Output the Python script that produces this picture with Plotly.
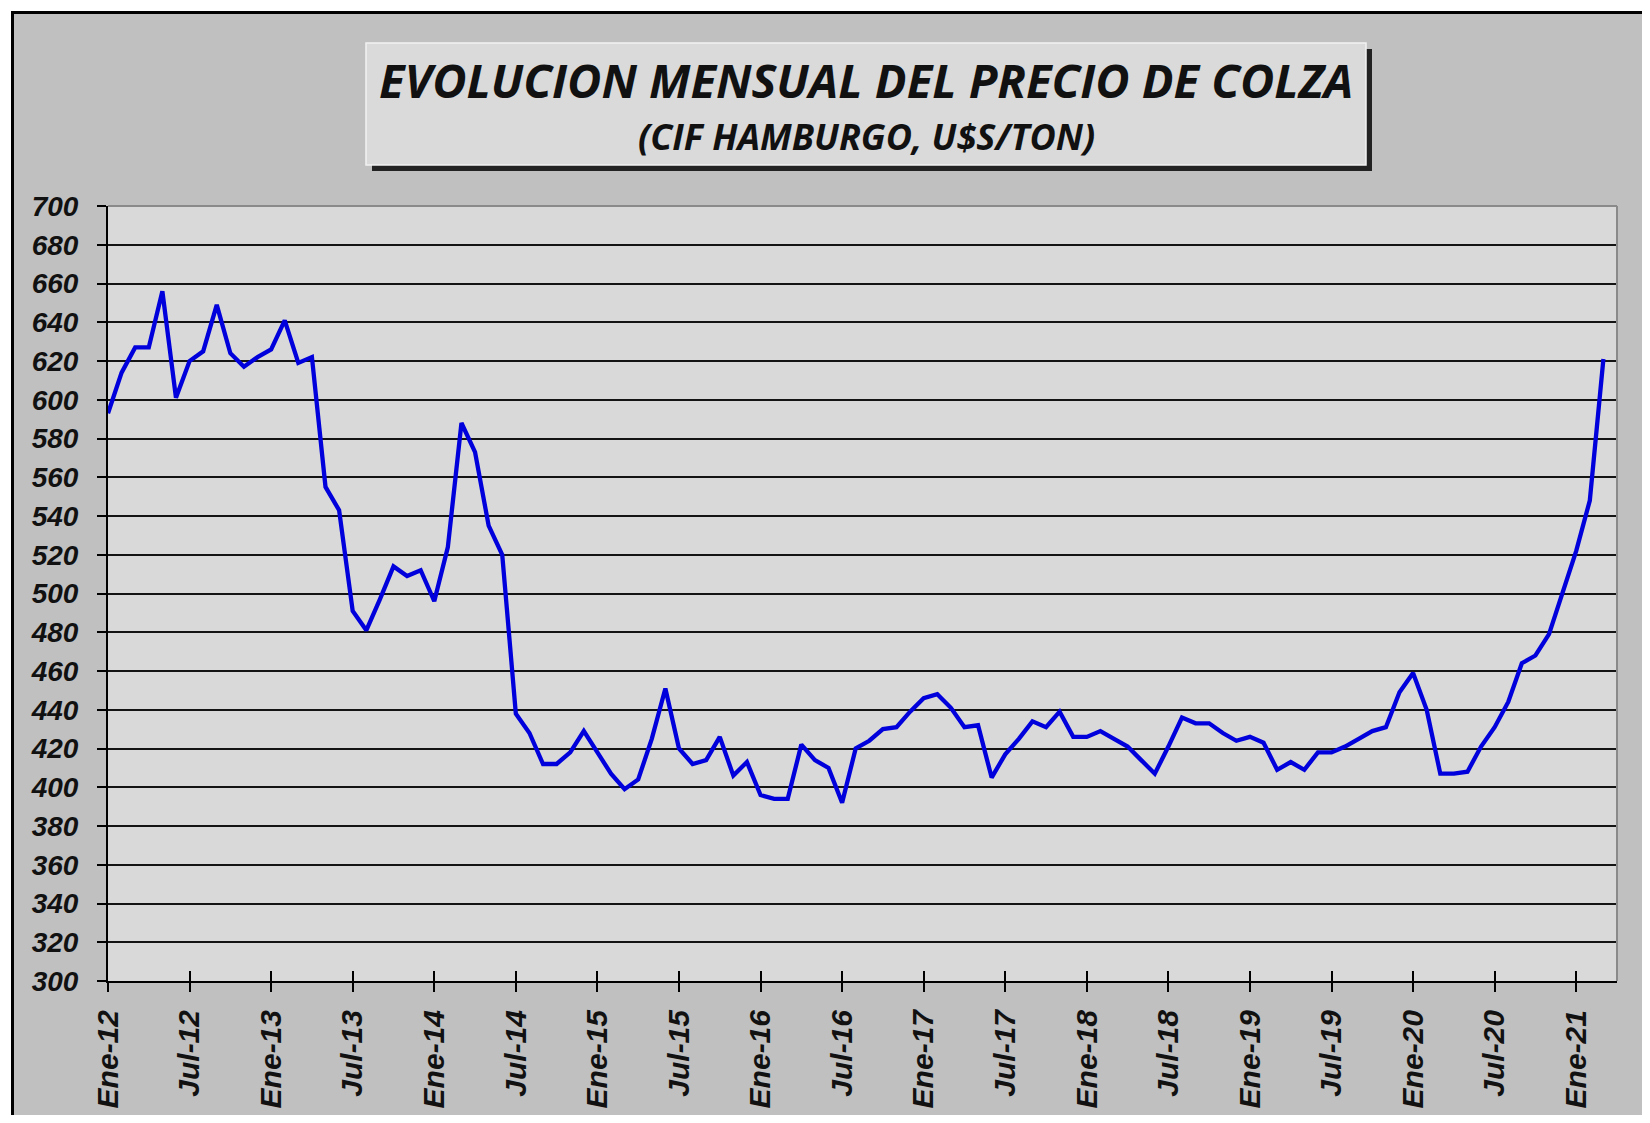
import plotly.graph_objects as go

# ---------------- data ----------------
month_abbr = ["Ene", "Feb", "Mar", "Abr", "May", "Jun", "Jul", "Ago", "Sep", "Oct", "Nov", "Dic"]
years = list(range(12, 22))

# monthly price, CIF Hamburgo, U$S/ton (Ene-12 ... Mar-21)
prices = [593, 614, 627, 627, 656, 601, 620, 625, 649, 624, 617, 622,
          626, 641, 619, 622, 555, 543, 491, 481, 497, 514, 509, 512,
          496, 524, 588, 573, 535, 520, 438, 428, 412, 412, 418, 429,
          418, 407, 399, 404, 425, 451, 420, 412, 414, 426, 406, 413,
          396, 394, 394, 422, 414, 410, 392, 420, 424, 430, 431, 439,
          446, 448, 441, 431, 432, 405, 417, 425, 434, 431, 439, 426,
          426, 429, 425, 421, 414, 407, 421, 436, 433, 433, 428, 424,
          426, 423, 409, 413, 409, 418, 418, 421, 425, 429, 431, 449,
          459, 440, 407, 407, 408, 421, 431, 444, 464, 468, 479, 500,
          522, 548, 621]

# axis categories run one month past the last value (Ene-12 ... Abr-21)
axis_months = [f"{m}-{y}" for y in years for m in month_abbr][:112]
tick_labels = ["Ene-12", "Jul-12", "Ene-13", "Jul-13", "Ene-14", "Jul-14", "Ene-15",
               "Jul-15", "Ene-16", "Jul-16", "Ene-17", "Jul-17", "Ene-18", "Jul-18",
               "Ene-19", "Jul-19", "Ene-20", "Jul-20", "Ene-21"]
y_ticks = list(range(300, 701, 20))

x_idx = list(range(len(prices)))
tick_idx = [axis_months.index(t) for t in tick_labels]
hover_months = axis_months[:len(prices)]

# ---------------- layout geometry (page pixels) ----------------
PAGE_W, PAGE_H = 1650, 1123
OFF = 8                      # default body margin of the html page
W, H = PAGE_W - OFF, PAGE_H - 2 * OFF
L, R, T, B = 108, 1617, 206, 981   # plot area on the page
pw, ph = R - L, B - T


def px(xp):
    return (xp - L) / pw


def py(yp):
    return (B - yp) / ph


tick_font = dict(family="Liberation Sans, Arial, sans-serif", size=28, color="#111111",
                 weight="bold", style="italic")
xtick_font = dict(tick_font, size=30)

fig = go.Figure()
fig.add_trace(go.Scatter(
    x=x_idx, y=prices, mode="lines", text=hover_months,
    line=dict(color="#0000dc", width=4.3),
    hovertemplate="%{text}: %{y}<extra></extra>",
    showlegend=False,
))
# invisible companion trace on the overlay axis (gives the inner tick marks)
fig.add_trace(go.Scatter(
    x=x_idx, y=prices, mode="lines", xaxis="x2",
    line=dict(color="rgba(0,0,0,0)", width=0),
    hoverinfo="skip", showlegend=False,
))

shapes = [
    # white strip + black outer frame
    dict(type="rect", xref="paper", yref="paper", x0=px(0), x1=px(PAGE_W - OFF), y0=py(OFF - 1), y1=py(11),
         fillcolor="white", line=dict(width=0), layer="below"),
    dict(type="rect", xref="paper", yref="paper", x0=px(OFF - 1), x1=px(11), y0=py(OFF - 1), y1=py(PAGE_H - OFF),
         fillcolor="white", line=dict(width=0), layer="below"),
    dict(type="line", xref="paper", yref="paper", x0=px(12), x1=px(PAGE_W - OFF), y0=py(12.5), y1=py(12.5),
         line=dict(color="black", width=3)),
    dict(type="line", xref="paper", yref="paper", x0=px(12.5), x1=px(12.5), y0=py(11), y1=py(PAGE_H - OFF),
         line=dict(color="black", width=3)),
    # title box shadow and box
    dict(type="rect", xref="paper", yref="paper", x0=px(372), x1=px(1372), y0=py(49), y1=py(171),
         fillcolor="#222222", line=dict(width=0)),
    dict(type="rect", xref="paper", yref="paper", x0=px(366), x1=px(1366), y0=py(43), y1=py(165),
         fillcolor="#dadada", line=dict(color="#f2f2f2", width=1.5)),
    # plot area top / right border
    dict(type="line", xref="paper", yref="paper", x0=0, x1=1, y0=1, y1=1,
         line=dict(color="#8a8a8a", width=2)),
    dict(type="line", xref="paper", yref="paper", x0=1, x1=1, y0=0, y1=1,
         line=dict(color="#8a8a8a", width=2)),
]

annotations = [
    dict(text="<b><i>EVOLUCION MENSUAL DEL PRECIO DE COLZA</i></b>", xref="paper", yref="paper",
         x=px(866), y=py(80), xanchor="center", yanchor="middle", showarrow=False,
         font=dict(family="Open Sans, Lato, sans-serif", size=47, color="#111111")),
    dict(text="<b><i>(CIF HAMBURGO, U$S/TON)</i></b>", xref="paper", yref="paper",
         x=px(866), y=py(137), xanchor="center", yanchor="middle", showarrow=False,
         font=dict(family="Open Sans, Lato, sans-serif", size=36, color="#111111")),
]

fig.update_layout(
    width=W, height=H,
    margin=dict(l=L - OFF, r=PAGE_W - R, t=T - OFF, b=H - (B - OFF), pad=0, autoexpand=False),
    paper_bgcolor="#c0c0c0",
    plot_bgcolor="#d9d9d9",
    showlegend=False,
    shapes=shapes,
    annotations=annotations,
    xaxis=dict(
        range=[0, len(axis_months) - 1],
        tickmode="array", tickvals=tick_idx, ticktext=tick_labels,
        tickangle=-90, tickfont=xtick_font,
        ticks="outside", ticklen=9, tickwidth=2, tickcolor="black",
        ticklabelstandoff=6, automargin=False,
        showgrid=False, zeroline=False,
        showline=True, linecolor="black", linewidth=2,
        fixedrange=True,
    ),
    xaxis2=dict(
        matches="x", overlaying="x", anchor="y", side="bottom",
        tickmode="array", tickvals=tick_idx, automargin=False,
        ticks="inside", ticklen=10, tickwidth=2, tickcolor="black",
        showticklabels=False, showgrid=False, zeroline=False, showline=False,
    ),
    yaxis=dict(
        range=[300, 700],
        tickmode="array", tickvals=y_ticks,
        tickfont=tick_font,
        ticks="outside", ticklen=9, tickwidth=2, tickcolor="black",
        ticklabelstandoff=13, automargin=False,
        showgrid=True, gridcolor="#141414", gridwidth=2.2,
        zeroline=False,
        showline=True, linecolor="black", linewidth=2,
        fixedrange=True,
    ),
)

fig.write_html("out.html")
